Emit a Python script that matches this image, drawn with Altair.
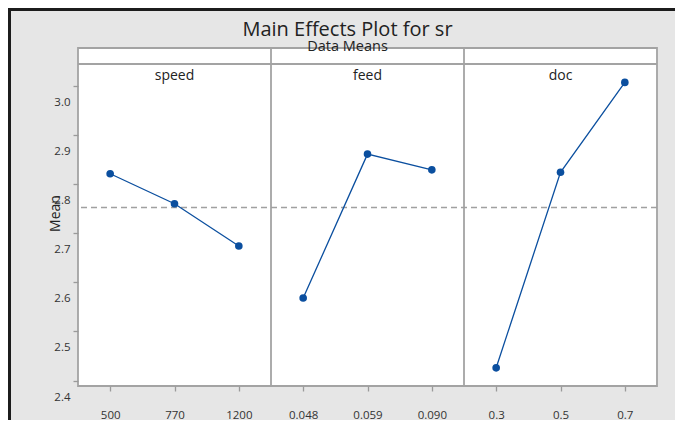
import altair as alt
import pandas as pd

# ---- data ----
factors = ["speed", "feed", "doc"]
speed_levels = ["500", "770", "1200"]
feed_levels = ["0.048", "0.059", "0.090"]
doc_levels = ["0.3", "0.5", "0.7"]
speed_means = [2.821, 2.760, 2.674]
feed_means = [2.568, 2.861, 2.829]
doc_means = [2.426, 2.824, 3.007]
y_ticks = [2.4, 2.5, 2.6, 2.7, 2.8, 2.9, 3.0]

levels = {"speed": speed_levels, "feed": feed_levels, "doc": doc_levels}
means = {"speed": speed_means, "feed": feed_means, "doc": doc_means}

rows = []
for f in factors:
    for lv, m in zip(levels[f], means[f]):
        rows.append({"factor": f, "level": lv, "mean_sr": m})
df = pd.DataFrame(rows)
lab_df = pd.DataFrame({"factor": factors, "level": [levels[f][1] for f in factors]})
x_order = speed_levels + feed_levels + doc_levels

# ---- style ----
FONT = "Open Sans"
BLUE = "#0b4f9f"
GRAY = "#a3a3a3"
W, H = 579, 338
PAD = {"left": 70, "top": 40, "right": 18, "bottom": 34}

x_enc = alt.X("level:N", sort=x_order,
              scale=alt.Scale(type="point", padding=0.5),
              axis=alt.Axis(title=None, labelAngle=0, labelPadding=18))
y_enc = alt.Y("mean_sr:Q",
              scale=alt.Scale(domain=[2.389, 3.077], nice=False, zero=False),
              axis=alt.Axis(values=y_ticks, format=".1f", title="Mean",
                            labelOffset=16.5, labelPadding=3,
                            titleX=-16, titleY=165, titleFontSize=14,
                            titleFontWeight="normal", titleColor="#222"))

base = alt.Chart(df)
decor = alt.Chart(alt.Data(values=[{}]))

dividers = alt.layer(
    decor.mark_rule(color=GRAY, strokeWidth=1.8).encode(
        x=alt.value(W / 3), y=alt.value(0), y2=alt.value(H)),
    decor.mark_rule(color=GRAY, strokeWidth=1.8).encode(
        x=alt.value(2 * W / 3), y=alt.value(0), y2=alt.value(H)),
    decor.mark_rule(color=GRAY, strokeWidth=1.8).encode(
        x=alt.value(0), x2=alt.value(W), y=alt.value(16)),
)

mean_rule = base.mark_rule(color="#a0a0a0", strokeDash=[6, 4], strokeWidth=1.5).encode(
    y="mean(mean_sr):Q")
lines = base.mark_line(color=BLUE, strokeWidth=1.3).encode(
    x=x_enc, y=y_enc, detail="factor:N")
points = base.mark_circle(color=BLUE, size=58, opacity=1).encode(x=x_enc, y=y_enc)
labels = alt.Chart(lab_df).mark_text(font=FONT, fontSize=14, color="#222",
                                      baseline="middle").encode(
    x=alt.X("level:N", sort=x_order), y=alt.value(28), text="factor:N")

borders = alt.layer(
    decor.mark_rule(color="#1c1c1c", strokeWidth=3).encode(
        x=alt.value(-PAD["left"] + 1.5), y=alt.value(-PAD["top"]),
        y2=alt.value(H + PAD["bottom"])),
    decor.mark_rule(color="#1c1c1c", strokeWidth=3).encode(
        x=alt.value(-PAD["left"]), x2=alt.value(W + PAD["right"]),
        y=alt.value(-PAD["top"] + 1.5)),
)

chart = alt.layer(dividers, mean_rule, lines, points, labels, borders).properties(
    width=W, height=H,
    background="#e6e6e6",
    padding=PAD,
    autosize=alt.AutoSizeParams(type="none"),
    title=alt.TitleParams(
        text="Main Effects Plot for sr", subtitle="Data Means",
        anchor="middle", frame="group", dx=-20, offset=-47,
        font=FONT, fontSize=20, fontWeight="normal", color="#222",
        subtitleFont=FONT, subtitleFontSize=14.5, subtitleColor="#222",
        subtitlePadding=0),
).configure_view(
    fill="white", stroke=GRAY, strokeWidth=1.8
).configure_axis(
    labelFont=FONT, labelFontSize=11.5, labelColor="#333",
    titleFont=FONT, tickColor="#9a9a9a", tickWidth=1.3, tickSize=5,
    domain=False, grid=False
)

chart.save("out.html", embed_options={"renderer": "svg", "actions": False})
